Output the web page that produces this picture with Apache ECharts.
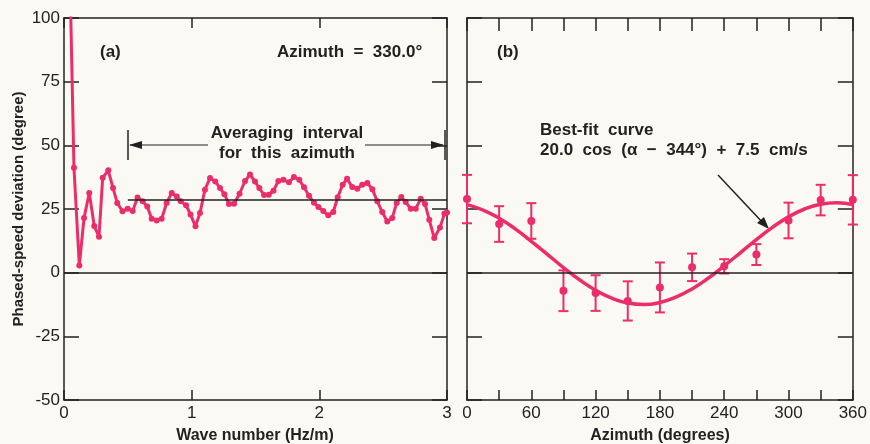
<!DOCTYPE html>
<html>
<head>
<meta charset="utf-8">
<script src="https://cdn.jsdelivr.net/npm/echarts@6/dist/echarts.min.js"></script>
<style>
  html, body { margin: 0; padding: 0; background: #fbf9f4; }
  #chart { width: 870px; height: 444px; }
</style>
</head>
<body>
<div id="chart"></div>
<script>
// panel (a): phase-speed deviation vs wave number
const waveNumber = [0.043,0.078,0.120,0.157,0.198,0.237,0.274,0.303,0.347,0.384,0.417,0.458,0.499,0.538,0.576,0.616,0.652,0.687,0.726,0.765,0.804,0.844,0.883,0.914,0.956,0.991,1.030,1.065,1.104,1.144,1.185,1.222,1.256,1.292,1.332,1.375,1.418,1.457,1.496,1.530,1.567,1.604,1.641,1.679,1.718,1.762,1.801,1.843,1.880,1.919,1.958,1.993,2.031,2.070,2.109,2.144,2.183,2.217,2.258,2.297,2.336,2.376,2.415,2.454,2.493,2.532,2.571,2.606,2.642,2.676,2.716,2.755,2.794,2.828,2.861,2.900,2.945,2.980,3.000]
const deviation = [125,41.2,2.8,21.5,31.3,18.3,14.1,37.3,40.2,33.2,27.4,24.1,25.1,24.2,29.5,28.0,26.0,21.2,20.5,21.2,27.4,31.3,29.9,28.0,26.5,22.8,18.2,23.4,32.6,37.2,35.8,33.2,30.8,27.0,27.1,31.0,36.0,38.5,35.8,33.2,30.5,30.6,32.2,36.0,36.5,35.5,37.6,36.5,33.5,30.2,27.5,25.8,24.2,22.5,23.8,29.6,34.5,36.9,33.6,33.0,34.5,35.2,32.8,28.0,23.8,20.1,21.5,27.4,29.7,27.7,25.1,25.1,29.0,27.0,20.8,13.6,17.7,23.2,23.6]
const avgInterval = [0.5, 3.0]
const avgValue = 28.5

// panel (b): averaged deviation vs azimuth, with error bars
const azimuth = [0,30,60,90,120,150,180,210,240,270,300,330,360]
const azMean = [28.9,19.1,20.3,-7.1,-8.0,-11.1,-5.8,2.1,2.5,7.1,20.5,28.5,28.6]
const azErr = [9.5,7.0,7.0,8.0,7.0,7.7,9.8,5.4,2.8,4.1,7.0,6.0,9.7]
// best-fit curve every 15 degrees
const fitAz = [0,15,30,45,60,75,90,105,120,135,150,165,180,195,210,225,240,255,270,285,300,315,330,345,360]
const fitVal = [26.7,24.6,21.4,17.2,12.3,7.2,2.0,-2.8,-6.9,-10.0,-11.9,-12.5,-11.7,-9.6,-6.4,-2.2,2.7,7.8,13.0,17.8,21.9,25.0,26.9,27.5,26.7]

const pink = '#ec2d6b'
const ink = '#222'
const font = "'Liberation Sans Narrow', 'Liberation Sans', Arial, sans-serif"
const txt = "'Liberation Sans', Arial, sans-serif"

function xAx(grid, pos, min, max, interval, tickLen, labels) {
  return {
    type: 'value', gridIndex: grid, position: pos, min: min, max: max, interval: interval,
    axisLine: { show: true, onZero: false, lineStyle: { color: ink, width: 1.5 } },
    axisTick: { show: true, inside: true, length: tickLen, lineStyle: { color: ink, width: 1.5 } },
    axisLabel: labels ? { show: true, color: ink, fontSize: 17, fontFamily: font, margin: 5,
      formatter: labels } : { show: false },
    splitLine: { show: false }
  }
}
function yAx(grid, pos, labels, name) {
  return {
    type: 'value', gridIndex: grid, position: pos, min: -50, max: 100, interval: 25,
    axisLine: { show: true, onZero: false, lineStyle: { color: ink, width: 1.5 } },
    axisTick: { show: true, inside: true, length: 15, lineStyle: { color: ink, width: 1.5 } },
    axisLabel: labels ? { show: true, color: ink, fontSize: 17, fontFamily: font, margin: 4 } : { show: false },
    splitLine: { show: false },
    name: name || '', nameLocation: 'middle', nameGap: 38, nameRotate: 90,
    nameTextStyle: { color: ink, fontSize: 15, fontWeight: 'bold', fontFamily: font }
  }
}

const option = {
  backgroundColor: '#fbf9f4',
  animation: false,
  grid: [
    { left: 64, right: 423, top: 18, bottom: 44 },
    { left: 467, right: 17, top: 18, bottom: 44 }
  ],
  xAxis: [
    xAx(0, 'bottom', 0, 3, 1, 10, v => v),
    xAx(0, 'top', 0, 3, 1, 10, null),
    xAx(1, 'bottom', 0, 360, 30, 10, v => (v % 60 === 0 ? v : '')),
    xAx(1, 'top', 0, 360, 30, 13, null)
  ],
  yAxis: [
    yAx(0, 'left', true, 'Phased-speed deviation (degree)'),
    yAx(0, 'right', false),
    yAx(1, 'left', false),
    yAx(1, 'right', false)
  ],
  graphic: [
    { type: 'text', x: 255, y: 436, style: { text: 'Wave number (Hz/m)', fill: ink, font: "bold 16px " + font, textAlign: 'center', textVerticalAlign: 'middle' } },
    { type: 'text', x: 660, y: 436, style: { text: 'Azimuth (degrees)', fill: ink, font: "bold 16px " + font, textAlign: 'center', textVerticalAlign: 'middle' } },
    { type: 'text', x: 100, y: 52, style: { text: '(a)', fill: ink, font: "bold 17px " + txt, textVerticalAlign: 'middle' } },
    { type: 'text', x: 277, y: 52, style: { text: 'Azimuth  =  330.0°', fill: ink, font: "bold 17px " + txt, textVerticalAlign: 'middle' } },
    { type: 'text', x: 497, y: 52, style: { text: '(b)', fill: ink, font: "bold 17px " + txt, textVerticalAlign: 'middle' } },
    { type: 'text', x: 287, y: 133, style: { text: 'Averaging  interval', fill: ink, font: "bold 17px " + txt, textAlign: 'center', textVerticalAlign: 'middle' } },
    { type: 'text', x: 287, y: 153, style: { text: 'for  this  azimuth', fill: ink, font: "bold 17px " + txt, textAlign: 'center', textVerticalAlign: 'middle' } },
    { type: 'text', x: 540, y: 130, style: { text: 'Best-fit  curve', fill: ink, font: "bold 17px " + txt, textVerticalAlign: 'middle' } },
    { type: 'text', x: 540, y: 150, style: { text: '20.0  cos  (α  −  344°)  +  7.5  cm/s', fill: ink, font: "bold 17px " + txt, textVerticalAlign: 'middle' } },
    // arrows of the averaging interval
    { type: 'line', shape: { x1: 128, y1: 130, x2: 128, y2: 160 }, style: { stroke: ink, lineWidth: 1.5 } },
    { type: 'line', shape: { x1: 445, y1: 130, x2: 445, y2: 160 }, style: { stroke: ink, lineWidth: 1.5 } },
    { type: 'line', shape: { x1: 130, y1: 145, x2: 208, y2: 145 }, style: { stroke: ink, lineWidth: 1.2 } },
    { type: 'polygon', shape: { points: [[129, 145], [142, 141], [142, 149]] }, style: { fill: ink } },
    { type: 'line', shape: { x1: 365, y1: 145, x2: 443, y2: 145 }, style: { stroke: ink, lineWidth: 1.2 } },
    { type: 'polygon', shape: { points: [[444, 145], [431, 141], [431, 149]] }, style: { fill: ink } },
    // arrow pointing at the fit curve
    { type: 'line', shape: { x1: 718, y1: 175, x2: 764, y2: 224 }, style: { stroke: ink, lineWidth: 1.5 } },
    { type: 'polygon', shape: { points: [[769, 229], [757, 223], [764, 217]] }, style: { fill: ink } }
  ],
  series: [
    {
      type: 'line', xAxisIndex: 0, yAxisIndex: 0,
      data: waveNumber.map((x, i) => [x, deviation[i]]),
      symbol: 'circle', symbolSize: 6, clip: true,
      lineStyle: { color: pink, width: 3 },
      itemStyle: { color: pink },
      markLine: {
        silent: true, symbol: 'none', label: { show: false },
        lineStyle: { color: ink, width: 1.5, type: 'solid' },
        data: [
          { yAxis: 0 },
          [{ coord: [avgInterval[0], avgValue] }, { coord: [avgInterval[1], avgValue] }]
        ]
      }
    },
    {
      type: 'line', xAxisIndex: 2, yAxisIndex: 2,
      data: fitAz.map((x, i) => [x, fitVal[i]]),
      smooth: true, showSymbol: false,
      lineStyle: { color: pink, width: 3.5 },
      markLine: {
        silent: true, symbol: 'none', label: { show: false },
        lineStyle: { color: ink, width: 1.5, type: 'solid' },
        data: [{ yAxis: 0 }]
      }
    },
    {
      type: 'custom', xAxisIndex: 2, yAxisIndex: 2,
      data: azimuth.map((x, i) => [x, azMean[i], azErr[i]]),
      clip: false,
      renderItem: function (params, api) {
        const x = api.value(0), m = api.value(1), e = api.value(2)
        const c = api.coord([x, m])
        const top = api.coord([x, m + e])
        const bot = api.coord([x, m - e])
        const w = 5
        const st = { stroke: pink, lineWidth: 2 }
        return {
          type: 'group',
          children: [
            { type: 'line', shape: { x1: top[0], y1: top[1], x2: bot[0], y2: bot[1] }, style: st },
            { type: 'line', shape: { x1: top[0] - w, y1: top[1], x2: top[0] + w, y2: top[1] }, style: st },
            { type: 'line', shape: { x1: bot[0] - w, y1: bot[1], x2: bot[0] + w, y2: bot[1] }, style: st },
            { type: 'circle', shape: { cx: c[0], cy: c[1], r: 4 }, style: { fill: pink } }
          ]
        }
      }
    }
  ]
}

const myChart = echarts.init(document.getElementById('chart'))
myChart.setOption(option)
</script>
</body>
</html>
